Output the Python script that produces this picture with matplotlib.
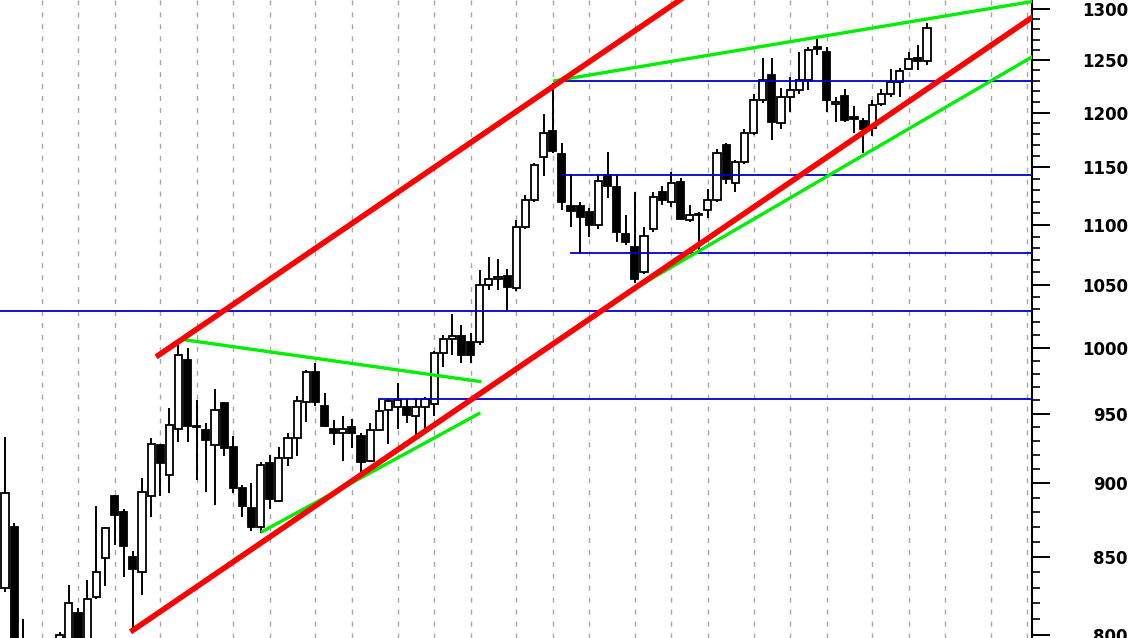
import numpy as np
import matplotlib.pyplot as plt
from matplotlib.ticker import FixedLocator, NullFormatter

# daily candles (index 0 = leftmost bar)
opens = [830, 870, 796, 790, 788, 792, 792, 797, 814, 796,
         824, 849, 891, 880, 850, 840, 891, 927, 906, 939,
         990, 941, 938, 927, 958, 926, 897, 883, 870, 914,
         888, 918, 932, 959, 981, 956, 939, 936, 940, 934,
         916, 938, 953, 955, 955, 948, 955, 957, 996, 1007,
         1009, 1004, 1004, 1050, 1055, 1057, 1047, 1098, 1121, 1159,
         1183, 1162, 1116, 1116, 1111, 1100, 1143, 1133, 1092, 1081,
         1060, 1096, 1128, 1120, 1137, 1104, 1109, 1113, 1121, 1170,
         1136, 1155, 1181, 1212, 1236, 1190, 1215, 1221, 1231, 1263,
         1258, 1208, 1216, 1196, 1192, 1186, 1208, 1217, 1229, 1241,
         1252, 1249]
highs = [933, 873, 810, 796, 795, 797, 802, 832, 817, 835,
         884, 870, 892, 882, 854, 904, 932, 928, 954, 1002,
         1000, 960, 943, 968, 959, 934, 899, 900, 915, 920,
         926, 936, 963, 983, 988, 965, 945, 948, 946, 936,
         943, 961, 961, 973, 961, 961, 962, 997, 1010, 1026,
         1018, 1011, 1062, 1073, 1071, 1063, 1104, 1126, 1154, 1199,
         1228, 1172, 1143, 1120, 1114, 1143, 1164, 1143, 1108, 1128,
         1098, 1128, 1134, 1146, 1141, 1117, 1111, 1131, 1167, 1172,
         1157, 1185, 1217, 1252, 1252, 1223, 1234, 1258, 1263, 1271,
         1263, 1215, 1222, 1206, 1195, 1212, 1222, 1241, 1242, 1258,
         1265, 1286]
lows = [827, 788, 785, 782, 780, 785, 788, 790, 790, 792,
        823, 831, 858, 837, 804, 825, 877, 891, 893, 929,
        929, 902, 894, 885, 919, 893, 877, 867, 866, 882,
        887, 912, 919, 944, 956, 940, 927, 916, 925, 908,
        915, 938, 928, 939, 943, 931, 938, 948, 985, 994,
        988, 988, 1002, 1046, 1046, 1029, 1045, 1096, 1120, 1142,
        1163, 1113, 1098, 1076, 1090, 1096, 1123, 1085, 1083, 1051,
        1059, 1094, 1117, 1115, 1104, 1102, 1079, 1106, 1120, 1135,
        1128, 1153, 1179, 1209, 1175, 1185, 1201, 1217, 1221, 1255,
        1201, 1191, 1191, 1181, 1163, 1178, 1206, 1215, 1215, 1240,
        1240, 1245]
closes = [893, 792, 790, 788, 792, 790, 800, 820, 795, 823,
          840, 869, 878, 857, 842, 894, 928, 914, 942, 994,
          941, 940, 931, 953, 925, 897, 884, 870, 913, 889,
          918, 932, 959, 981, 959, 941, 936, 939, 936, 915,
          938, 952, 959, 960, 949, 955, 961, 996, 1007, 1009,
          994, 994, 1050, 1055, 1056, 1048, 1098, 1121, 1152, 1181,
          1165, 1120, 1112, 1107, 1100, 1138, 1134, 1094, 1085, 1055,
          1090, 1124, 1121, 1136, 1105, 1108, 1108, 1121, 1163, 1140,
          1155, 1181, 1212, 1231, 1191, 1215, 1221, 1231, 1260, 1261,
          1212, 1210, 1193, 1194, 1185, 1207, 1217, 1229, 1239, 1251,
          1249, 1281]

# weekly grid (bar index)
grid_idx = [4, 8, 12, 17, 21, 25, 29, 34, 38, 43, 47, 51, 56, 60, 64,
            69, 73, 77, 82, 86, 90, 95, 99, 103, 108, 112]

# horizontal support / resistance: level, start bar
hlines_level = [1029, 961, 1076, 1143, 1230]
hlines_start = [-1, 41, 62, 61, 61.5]

# trend lines: (x0, y0, x1, y1)
red_lines = [(16.8, 994, 74.0, 1310), (14.0, 803, 112.5, 1292)]
green_lines = [(19.7, 1006, 52.0, 974), (28.2, 867, 51.9, 950),
               (60.2, 1230, 112.5, 1308), (69.0, 1047, 112.5, 1253)]

fig = plt.figure(figsize=(11.36, 6.38), dpi=100)
ax = fig.add_axes([0, 0, 1032 / 1136, 1])
ax.set_yscale('log')
ax.set_xlim(-0.55, 112.5)
ax.set_ylim(798.2, 1309.6)

for g in grid_idx:
    ax.axvline(g, color='#a8a8a8', lw=1.0, linestyle=(0, (3.6, 5)), zorder=0)

x = np.arange(len(opens))
o = np.array(opens)
c = np.array(closes)
up = c >= o
ax.vlines(x, lows, highs, color='black', lw=1.4, zorder=2)
ax.bar(x, np.abs(c - o) + 0.01, bottom=np.minimum(o, c), width=0.78,
       color=np.where(up, 'white', 'black'), edgecolor='black', lw=1.3, zorder=3)

for lvl, st in zip(hlines_level, hlines_start):
    ax.plot([st, 113], [lvl, lvl], color='#0000d0', lw=1.3, zorder=4)

for x0, y0, x1, y1 in green_lines:
    ax.plot([x0, x1], [y0, y1], color='#00ee00', lw=2.4, zorder=5)
for x0, y0, x1, y1 in red_lines:
    ax.plot([x0, x1], [y0, y1], color='#ff0000', lw=4.0, zorder=6)

for s in ['left', 'top', 'bottom']:
    ax.spines[s].set_visible(False)
ax.spines['right'].set_linewidth(1.5)
ax.set_xticks([])
ax.yaxis.tick_right()
ax.yaxis.set_major_locator(FixedLocator(list(range(800, 1301, 50))))
ax.yaxis.set_minor_locator(FixedLocator(list(range(800, 1311, 10))))
ax.yaxis.set_major_formatter(plt.FuncFormatter(lambda v, p: '%d' % v))
ax.yaxis.set_minor_formatter(NullFormatter())
ax.tick_params(axis='y', which='major', length=13, width=1.4, pad=56,
               labelsize=12)
ax.tick_params(axis='y', which='minor', length=6, width=1.2)
for lab in ax.get_yticklabels():
    lab.set_horizontalalignment('right')
    lab.set_fontweight('bold')

fig.savefig('out.png', dpi=100)
